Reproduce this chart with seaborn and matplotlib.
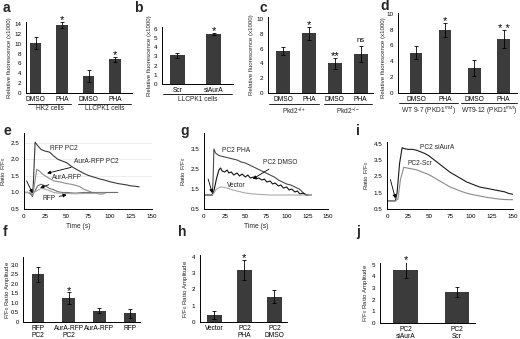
import numpy as np
import pandas as pd
import matplotlib
matplotlib.use("Agg")
import matplotlib.pyplot as plt
import seaborn as sns
from matplotlib.transforms import blended_transform_factory

sns.set_theme(style="white")
plt.rcParams['font.family'] = ['Liberation Sans', 'DejaVu Sans']
plt.rcParams['mathtext.fontset'] = 'custom'
plt.rcParams['mathtext.rm'] = 'Liberation Sans'
plt.rcParams['mathtext.it'] = 'Liberation Sans:italic'

# ---------------- data ----------------
a_labels = ["DMSO", "PHA", "DMSO", "PHA"]
a_vals = [10.1, 13.8, 3.4, 6.8]
a_errs = [1.2, 0.6, 1.2, 0.6]
a_groups = ["HK2 cells", "LLCPK1 cells"]

b_labels = ["Scr", "siAurA"]
b_vals = [3.1, 5.4]
b_errs = [0.22, 0.12]
b_groups = ["LLCPK1 cells"]

c_labels = ["DMSO", "PHA", "DMSO", "PHA"]
c_vals = [5.7, 8.1, 4.0, 5.3]
c_errs = [0.5, 0.9, 0.8, 1.1]
c_groups = ["Pkd2$^{+/+}$", "Pkd2$^{-/-}$"]
c_marks = ["", "*", "**", "ns"]

d_labels = ["DMSO", "PHA", "DMSO", "PHA"]
d_vals = [5.1, 8.0, 3.2, 6.8]
d_errs = [0.8, 0.9, 1.0, 1.1]
d_groups = ["WT 9-7 (PKD1$^{mut}$)", "WT9-12 (PKD1$^{mut}$)"]

f_labels = ["RFP\nPC2", "AurA-RFP\nPC2", "AurA-RFP", "RFP"]
f_vals = [2.5, 1.25, 0.6, 0.45]
f_errs = [0.4, 0.3, 0.12, 0.25]

h_labels = ["Vector", "PC2\nPHA", "PC2\nDMSO"]
h_vals = [0.45, 3.2, 1.55]
h_errs = [0.25, 0.6, 0.4]

j_labels = ["PC2\nsiAurA", "PC2\nScr"]
j_vals = [4.55, 2.65]
j_errs = [0.7, 0.4]

# panel e traces
e_rfppc2_t = [0, 5, 8, 10, 11, 13, 15, 20, 25, 30, 35, 40, 45, 50, 55, 60, 65, 70, 75, 80, 85, 90, 95, 100, 105, 110, 115, 120, 125, 130, 135]
e_rfppc2_v = [1.0, 1.0, 0.95, 0.88, 1.3, 2.52, 2.45, 2.3, 2.25, 2.22, 2.1, 2.0, 1.95, 1.9, 1.8, 1.72, 1.65, 1.58, 1.52, 1.48, 1.44, 1.4, 1.37, 1.33, 1.3, 1.27, 1.25, 1.23, 1.2, 1.19, 1.17]
e_aurpc2_t = [0, 5, 8, 10, 12, 15, 18, 22, 25, 30, 35, 40, 45, 50, 55, 60, 65, 70, 75, 80, 85, 90, 95]
e_aurpc2_v = [1.0, 1.0, 0.95, 0.9, 1.2, 1.7, 1.65, 1.55, 1.5, 1.42, 1.35, 1.33, 1.3, 1.27, 1.25, 1.22, 1.18, 1.1, 1.05, 1.0, 0.97, 0.95, 0.97]
e_aur_t = [0, 8, 10, 13, 16, 20, 25, 30, 35, 40, 45, 50, 60, 70, 80, 90, 100, 110]
e_aur_v = [1.0, 1.0, 0.95, 1.05, 1.2, 1.25, 1.2, 1.12, 1.08, 1.02, 1.0, 1.0, 0.98, 1.0, 1.0, 1.0, 1.0, 1.0]
e_rfp_t = [0, 8, 10, 15, 20, 25, 30, 35, 40, 50, 60, 70, 80, 90, 95]
e_rfp_v = [1.0, 1.0, 0.97, 1.05, 1.12, 1.1, 1.05, 1.0, 0.98, 0.97, 0.96, 0.97, 0.97, 0.98, 0.98]

# panel g traces
g_pha_t = [0, 5, 10, 11, 12, 14, 17, 20, 25, 30, 35, 40, 45, 50, 55, 60, 65, 70, 75, 80, 85, 90, 95, 100, 105, 110, 115, 118, 120, 125, 130]
g_pha_v = [1.2, 1.2, 1.2, 2.0, 3.5, 3.3, 3.2, 3.15, 3.1, 3.05, 3.0, 2.95, 2.85, 2.8, 2.7, 2.6, 2.5, 2.4, 2.3, 2.2, 2.1, 1.95, 1.85, 1.75, 1.7, 1.6, 1.5, 1.4, 1.3, 1.2, 1.2]
g_dmso_t = [0, 5, 10, 12, 15, 18, 20, 22, 25, 28, 30, 33, 36, 40, 43, 46, 50, 53, 56, 60, 63, 66, 70, 73, 76, 80, 83, 86, 90, 93, 96, 100, 103, 106, 110, 113, 116, 120, 123, 126]
g_dmso_v = [1.2, 1.2, 1.2, 1.4, 2.0, 2.45, 2.55, 2.4, 2.35, 2.45, 2.3, 2.35, 2.2, 2.3, 2.15, 2.25, 2.1, 2.2, 2.05, 2.1, 2.0, 2.05, 1.95, 2.0, 1.85, 1.9, 1.75, 1.8, 1.65, 1.7, 1.55, 1.6, 1.45, 1.5, 1.35, 1.4, 1.25, 1.3, 1.2, 1.2]
g_vec_t = [0, 10, 12, 15, 20, 25, 30, 35, 40, 50, 60, 70, 80, 90, 100, 110, 120, 130]
g_vec_v = [1.2, 1.2, 1.3, 1.5, 1.6, 1.58, 1.52, 1.45, 1.4, 1.3, 1.25, 1.22, 1.2, 1.2, 1.2, 1.2, 1.2, 1.2]

# panel i traces
i_si_t = [0, 5, 10, 12, 15, 18, 20, 25, 30, 35, 40, 45, 50, 55, 60, 65, 70, 75, 80, 85, 90, 95, 100, 105, 110, 115, 120, 125, 130, 135, 140, 145, 150]
i_si_v = [1.0, 1.0, 1.0, 1.5, 3.3, 4.25, 4.2, 4.15, 4.15, 4.1, 4.0, 3.9, 3.75, 3.55, 3.35, 3.15, 2.95, 2.75, 2.6, 2.45, 2.3, 2.15, 2.05, 1.95, 1.85, 1.8, 1.75, 1.7, 1.65, 1.6, 1.55, 1.45, 1.4]
i_scr_t = [0, 5, 10, 13, 16, 20, 25, 30, 35, 40, 45, 50, 55, 60, 65, 70, 75, 80, 85, 90, 95, 100, 105, 110, 115, 120, 125, 130, 135, 140, 145, 150]
i_scr_v = [1.0, 1.0, 1.0, 1.1, 2.3, 3.05, 3.0, 2.95, 2.9, 2.8, 2.7, 2.6, 2.45, 2.3, 2.15, 2.0, 1.85, 1.75, 1.65, 1.55, 1.47, 1.4, 1.35, 1.3, 1.25, 1.2, 1.17, 1.13, 1.1, 1.08, 1.07, 1.07]

# ---------------- layout ----------------
W, H = 520, 339
fig = plt.figure(figsize=(W / 100, H / 100), dpi=100)
fig.patch.set_facecolor("white")

BAR = "#3b3b3b"
TICK_FS = 4.5
CAT_FS = 4.8
YL_FS = 4.4
ANN_FS = 4.8


def axpx(x0, y0, x1, y1):
    return fig.add_axes([x0 / W, 1 - y1 / H, (x1 - x0) / W, (y1 - y0) / H])


def style(ax):
    sns.despine(ax=ax)
    for s in ["left", "bottom"]:
        ax.spines[s].set_color("black")
        ax.spines[s].set_linewidth(0.7)
    ax.tick_params(axis="both", direction="out", length=2, width=0.6,
                   labelsize=TICK_FS, pad=1.5, colors="black")
    ax.set_facecolor("white")


def bars(ax, labels, vals, errs, width, xlim, ylim, yticks, ylabel,
         stars=None):
    keys = [str(i) for i in range(len(vals))]
    df = pd.DataFrame({"k": keys, "v": vals})
    sns.barplot(data=df, x="k", y="v", ax=ax, color=BAR, saturation=1,
                width=width, errorbar=None, linewidth=0)
    ax.errorbar(range(len(vals)), vals, yerr=errs, fmt="none", ecolor="black",
                elinewidth=0.6, capsize=1.5, capthick=0.6)
    ax.set_xlim(*xlim)
    ax.set_ylim(*ylim)
    ax.set_yticks(yticks)
    style(ax)
    ax.set_xticks(range(len(vals)))
    ax.set_xticklabels(labels, fontsize=CAT_FS, linespacing=0.95)
    ax.tick_params(axis="x", length=0, pad=2)
    mids = [i + 0.5 for i in range(len(vals) - 1)]
    ax.set_xticks(mids, minor=True)
    ax.tick_params(axis="x", which="minor", length=2, width=0.6, direction="out")
    ax.set_xlabel("")
    ax.set_ylabel(ylabel, fontsize=YL_FS, labelpad=1.5)
    if stars:
        span = ylim[1] - ylim[0]
        for i, s in enumerate(stars):
            if s:
                fs = 5.5 if s == "ns" else 8
                dy = 0.02 * span if s == "ns" else -0.05 * span
                ax.text(i, vals[i] + errs[i] + dy, s,
                        ha="center", va="bottom", fontsize=fs, color="black")


def groups(ax, spans, names, line_px, text_px, hpx):
    tr = blended_transform_factory(ax.transData, ax.transAxes)
    for (x0, x1), name in zip(spans, names):
        ax.plot([x0, x1], [-line_px / hpx] * 2, color="black", lw=0.6,
                transform=tr, clip_on=False)
        ax.text((x0 + x1) / 2, -text_px / hpx, name, transform=tr,
                ha="center", va="top", fontsize=CAT_FS)


# ---------- a ----------
ax = axpx(26, 22, 132, 93)
bars(ax, a_labels, a_vals, a_errs, 0.42, (-0.36, 3.64), (0, 14.4),
     range(0, 15, 2), "Relative fluorescence (x1000)",
     stars=["", "*", "", "*"])
groups(ax, [(-0.3, 1.35), (1.6, 3.6)], a_groups, 10.5, 12, 71)

# ---------- b ----------
ax = axpx(162, 27, 233, 84)
bars(ax, b_labels, b_vals, b_errs, 0.42, (-0.43, 1.54), (0, 6.2),
     range(0, 7), "Relative fluorescence (x1000)",
     stars=["", "*"])
groups(ax, [(-0.4, 1.5)], b_groups, 10.5, 12, 57)

# ---------- c ----------
ax = axpx(268, 17, 373, 93)
bars(ax, c_labels, c_vals, c_errs, 0.54, (-0.58, 3.48), (0, 10.3),
     range(0, 11, 2), "Relative fluorescence (x1000)",
     stars=c_marks)
groups(ax, [(-0.55, 1.4), (1.6, 3.45)], c_groups, 11, 12.5, 76)

# ---------- d ----------
ax = axpx(398, 13, 517, 93)
bars(ax, d_labels, d_vals, d_errs, 0.42, (-0.62, 3.46), (0, 10.1),
     range(0, 11, 2), "Relative fluorescence (x1000)",
     stars=["", "*", "", "* *"])
groups(ax, [(-0.6, 1.45), (1.55, 3.45)], d_groups, 10, 11, 80)
ax.yaxis.set_label_coords(-0.1, 0.44)

# ---------- line panels ----------
def lineax(ax, ylim, yticks, ylabel, xlabel=True):
    ax.set_xlim(0, 150)
    ax.set_ylim(*ylim)
    ax.set_xticks(range(0, 151, 25))
    ax.set_yticks(yticks)
    ax.set_yticklabels([f"{t:.1f}" for t in yticks])
    style(ax)
    ax.set_ylabel(ylabel, fontsize=YL_FS, labelpad=2)
    if xlabel:
        ax.set_xlabel("Time (s)", fontsize=4.8, labelpad=2)
        ax.xaxis.set_label_coords(0.42, -0.18)
    else:
        ax.set_xlabel("")


ARW = dict(arrowstyle="-|>", color="black", lw=0.6, mutation_scale=5,
           shrinkA=0, shrinkB=0)

# e
ax = axpx(24, 133, 152, 209)
for yv in [1.5, 2.0, 2.5]:
    ax.axhline(yv, color="#e6e6e6", lw=0.5, zorder=0)
sns.lineplot(x=e_rfppc2_t, y=e_rfppc2_v, ax=ax, color="#3a3a3a", lw=0.8)
sns.lineplot(x=e_aurpc2_t, y=e_aurpc2_v, ax=ax, color="#8c8c8c", lw=0.8)
sns.lineplot(x=e_aur_t, y=e_aur_v, ax=ax, color="#6e6e6e", lw=0.8)
sns.lineplot(x=e_rfp_t, y=e_rfp_v, ax=ax, color="#a8a8a8", lw=0.8)
lineax(ax, (0.5, 2.8), [0.5, 1.0, 1.5, 2.0, 2.5], "Ratio F/F$_0$")
ax.text(31, 2.33, "RFP PC2", fontsize=ANN_FS, va="center")
ax.annotate("AurA-RFP PC2", xy=(27, 1.58), xytext=(59, 1.95), fontsize=ANN_FS,
            va="center", arrowprops=ARW)
ax.annotate("AurA-RFP", xy=(19, 1.14), xytext=(33, 1.44), fontsize=ANN_FS,
            va="center", arrowprops=ARW)
ax.annotate("RFP", xy=(50, 0.93), xytext=(22, 0.82), fontsize=ANN_FS,
            va="center", arrowprops=ARW)
ax.annotate("", xy=(10, 0.98), xytext=(3, 1.35), arrowprops=ARW)

# g
ax = axpx(204, 133, 328, 209)
sns.lineplot(x=g_pha_t, y=g_pha_v, ax=ax, color="#4a4a4a", lw=0.8)
sns.lineplot(x=g_dmso_t, y=g_dmso_v, ax=ax, color="#111111", lw=0.8)
sns.lineplot(x=g_vec_t, y=g_vec_v, ax=ax, color="#aaaaaa", lw=0.8)
lineax(ax, (0.5, 4.3), [0.5, 1.5, 2.5, 3.5], "Ratio F/F$_0$")
ax.text(22, 3.43, "PC2 PHA", fontsize=ANN_FS, va="center")
ax.annotate("PC2 DMSO", xy=(59, 2.0), xytext=(71, 2.83), fontsize=ANN_FS,
            va="center", arrowprops=ARW)
ax.text(28, 1.66, "Vector", fontsize=ANN_FS, va="center")
ax.annotate("", xy=(10, 1.3), xytext=(5, 2.0), arrowprops=ARW)

# i
ax = axpx(387, 142, 513, 209)
sns.lineplot(x=i_si_t, y=i_si_v, ax=ax, color="#1a1a1a", lw=0.8)
sns.lineplot(x=i_scr_t, y=i_scr_v, ax=ax, color="#8a8a8a", lw=0.8)
lineax(ax, (0.5, 4.6), [0.5, 1.5, 2.5, 3.5, 4.5], "Ratio F/F$_0$", xlabel=False)
ax.text(39, 4.25, "PC2 siAurA", fontsize=ANN_FS, va="center")
ax.text(24, 3.3, "PC2-Scr", fontsize=ANN_FS, va="center")
ax.annotate("", xy=(10, 1.15), xytext=(4, 2.3), arrowprops=ARW)

# ---------- f ----------
ax = axpx(23, 257, 140, 322)
bars(ax, f_labels, f_vals, f_errs, 0.4, (-0.48, 3.32), (0, 3.4),
     [0, 0.5, 1.0, 1.5, 2.0, 2.5, 3.0], "F/F$_0$ Ratio Amplitude",
     stars=["", "*", "", ""])
ax.set_yticklabels(["0", "0.5", "1.0", "1.5", "2.0", "2.5", "3.0"])
ax.tick_params(axis="y", labelsize=4.2, pad=1)
ax.yaxis.set_label_coords(-0.095, 0.5)

# ---------- h ----------
ax = axpx(200, 255, 287, 322)
bars(ax, h_labels, h_vals, h_errs, 0.52, (-0.48, 2.42), (0, 4.1),
     range(0, 5), "F/F$_0$ Ratio Amplitude",
     stars=["", "*", ""])

# ---------- j ----------
ax = axpx(380, 263, 475, 323)
bars(ax, j_labels, j_vals, j_errs, 0.48, (-0.5, 1.35), (0, 5.15),
     range(0, 6), "F/F$_0$ Ratio Amplitude",
     stars=["*", ""])

# panel letters
for lab, x, y in [("a", 3, 8), ("b", 134, 8), ("c", 259, 8), ("d", 380, 6),
                  ("e", 3, 131), ("g", 180, 131), ("i", 356, 131),
                  ("f", 3, 232), ("h", 178, 232), ("j", 356, 232)]:
    fig.text(x / W, 1 - y / H, lab, fontsize=10, fontweight="bold",
             va="center", ha="left")

fig.savefig("out.png", dpi=100, facecolor="white")
